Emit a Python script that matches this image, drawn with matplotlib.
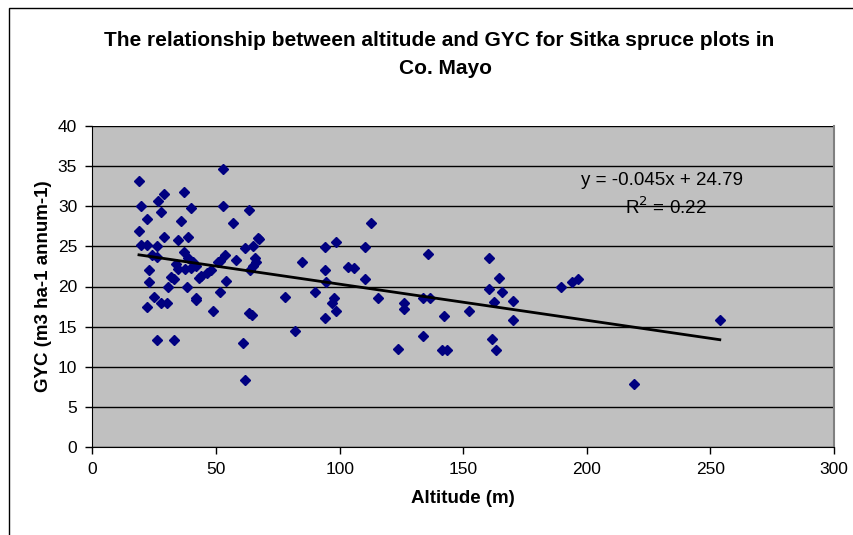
import matplotlib
matplotlib.use("Agg")
import matplotlib.pyplot as plt
from matplotlib.patches import Rectangle
import numpy as np

plt.rcParams['font.family'] = ['Liberation Sans', 'DejaVu Sans']

# altitude (m) and GYC values
altitude = [18.8, 19.8, 18.8, 19.8, 22.1, 22.1, 22.2, 22.8, 22.8, 23.9,
            24.9, 26.1, 26.1, 26.1, 26.5, 27.9, 27.9, 28.8, 29.0, 30.3,
            30.6, 31.9, 33.0, 33.0, 33.9, 34.6, 34.6, 35.7, 36.9, 37.0,
            37.3, 38.4, 38.6, 38.6, 39.7, 40.0, 40.6, 42.0, 42.0, 42.0,
            42.9, 44.0, 46.5, 48.0, 48.7, 50.7, 51.7, 51.7, 52.7, 52.7,
            53.8, 54.1, 56.8, 58.1, 60.8, 61.9, 61.9, 63.5, 63.8, 64.8,
            64.8, 63.5, 64.6, 66.2, 65.9, 66.9, 67.5,
            77.9, 81.9, 84.8, 90.0, 93.9, 98.5, 93.9, 94.4, 97.9, 96.7,
            98.5, 93.9, 103.5, 106.0, 110.4, 112.7, 110.4, 115.5, 123.5, 125.9,
            125.9, 133.7, 133.7, 135.6, 136.5, 142.3, 141.6, 143.6, 152.5, 160.4,
            164.4, 160.4, 165.6, 162.3, 170.2, 170.2, 161.6, 163.4,
            189.6, 193.9, 196.6, 219.2, 253.8]
gyc = [33.1, 30.0, 26.9, 25.2, 25.2, 28.4, 17.5, 22.1, 20.6, 23.9,
       18.7, 13.3, 25.1, 23.7, 30.7, 29.3, 17.9, 31.5, 26.2, 17.9,
       20.0, 21.2, 20.9, 13.3, 22.8, 22.2, 25.8, 28.2, 31.8, 24.3,
       22.2, 20.0, 26.2, 23.5, 29.8, 22.3, 23.0, 22.5, 18.6, 18.3,
       21.1, 21.3, 21.7, 22.1, 17.0, 23.0, 23.2, 19.3, 34.7, 30.0,
       23.9, 20.7, 27.9, 23.3, 13.0, 24.8, 8.4, 29.5, 22.1, 22.5,
       25.1, 16.7, 16.4, 23.0, 23.6, 26.1, 25.9,
       18.7, 14.5, 23.0, 19.3, 24.9, 25.6, 22.1, 20.5, 18.6, 17.9,
       17.0, 16.1, 22.4, 22.3, 24.9, 27.9, 20.9, 18.6, 12.2, 17.9,
       17.2, 18.6, 13.8, 24.0, 18.6, 16.3, 12.1, 12.1, 17.0, 23.5,
       21.1, 19.7, 19.3, 18.1, 18.2, 15.8, 13.5, 12.1,
       20.0, 20.5, 20.9, 7.8, 15.8]

# trendline from the chart label
slope = -0.045
intercept = 24.79

fig = plt.figure(figsize=(8.54, 5.35), dpi=100)
fig.patches.append(Rectangle((9 / 854, -0.1), 1.2, 1 - 8 / 535 + 0.1,
                             transform=fig.transFigure, fill=False,
                             edgecolor='black', linewidth=1.0))

ax = fig.add_axes([92.5 / 854, 1 - 447 / 535, (834 - 92.5) / 854, (447 - 126) / 535])
ax.set_facecolor('#C0C0C0')

ax.plot(altitude, gyc, linestyle='none', marker='D', markersize=5.5,
        color='#000080', zorder=3)

xs = np.array([min(altitude), max(altitude)])
ax.plot(xs, slope * xs + intercept, color='black', linewidth=2.0, zorder=4)

ax.set_xlim(0, 300)
ax.set_ylim(0, 40)
ax.set_xticks(range(0, 301, 50))
ax.set_yticks(range(0, 41, 5))
ax.yaxis.grid(True, color='black', linewidth=1.0)
ax.set_axisbelow(True)
ax.tick_params(labelsize=12.5, direction='out', length=5, width=1, pad=6)

ax.spines['top'].set_visible(False)
ax.spines['right'].set_color('#808080')
ax.spines['right'].set_linewidth(1.5)

ax.set_xlabel('Altitude (m)', fontsize=13.5, fontweight='bold', labelpad=9)
ax.set_ylabel('GYC (m3 ha-1 annum-1)', fontsize=13.5, fontweight='bold', labelpad=4)

fig.text(439 / 854, 1 - 40 / 535,
         'The relationship between altitude and GYC for Sitka spruce plots in',
         ha='center', va='center', fontsize=15, fontweight='bold')
fig.text(446 / 854, 1 - 68 / 535, 'Co. Mayo',
         ha='center', va='center', fontsize=15, fontweight='bold')

ax.text(230.5, 33.2, 'y = -0.045x + 24.79', ha='center', va='center', fontsize=13.5)
ax.text(232, 29.9, 'R$^2$ = 0.22', ha='center', va='center', fontsize=13.5)

fig.savefig('out.png', dpi=100)
